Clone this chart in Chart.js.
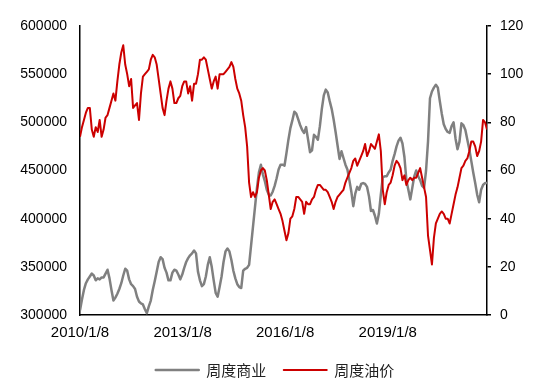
<!DOCTYPE html>
<html lang="zh">
<head>
<meta charset="UTF-8">
<title>周度商业 / 周度油价</title>
<script src="https://cdn.jsdelivr.net/npm/chart.js"></script>
<style>
    body { margin: 0; background: #ffffff; }
    #chart { display: block; }
</style>
</head>
<body>
<canvas id="chart" width="550" height="391"></canvas>
<script>
// sampled every 21 days starting 2010/1/8
const startDate = '2010/1/8';
const stepDays = 21;
const tickLabels = ['2010/1/8', '2013/1/8', '2016/1/8', '2019/1/8'];

// 周度商业 (thousands)
const commercialK = [
    305,316,326,333,337,340,343,341,336,338,
    337,339,339,343,347,338,326,315,318,322,
    327,333,341,348,346,337,332,330,327,319,
    314,312,311,306,302,309,315,326,335,345,
    355,360,358,349,344,336,336,344,347,346,
    342,337,342,349,355,359,362,364,367,364,
    345,336,330,332,340,352,360,350,336,323,
    319,329,340,355,366,369,366,357,346,338,
    332,329,328,346,348,349,352,372,392,412,
    432,448,456,446,439,430,425,424,428,434,
    442,451,456,456,455,468,482,494,502,511,
    509,503,497,492,489,495,482,469,471,487,
    485,482,496,514,528,534,531,522,514,503,
    490,476,462,470,463,456,451,440,428,413,
    426,433,430,436,437,436,433,423,408,409,
    403,395,405,425,443,444,444,448,451,460,
    467,475,481,484,478,464,440,430,420,432,
    444,450,444,440,434,432,450,480,525,532,
    536,539,536,522,509,498,493,490,489,496,
    500,483,472,480,499,497,492,482,472,460,
    448,437,425,417,430,435,437,437
];

// 周度油价
const oilPrice = [
    74,78,81,84,86,86,77,74,78,76,
    81,74,77,82,83,86,89,92,89,97,
    104,109,112,104,100,95,98,86,87,88,
    81,92,99,100,101,102,106,108,107,104,
    98,92,86,83,89,94,97,94,88,88,
    90,91,95,97,97,92,95,89,96,96,
    100,106,106,107,106,102,98,94,97,99,
    94,100,100,100,101,102,103,105,103,98,
    94,92,89,83,78,70,55,49,51,49,
    51,57,60,61,60,56,50,44,47,48,
    46,44,42,39,35,31,34,40,41,44,
    49,49,48,47,42,47,46,46,48,49,
    52,54,54,53,52,52,51,49,47,44,
    47,49,50,51,52,55,57,59,61,64,
    65,62,64,66,68,71,66,68,71,70,
    69,72,75,68,52,46,51,54,55,58,
    62,64,63,61,56,58,54,56,57,56,
    57,57,59,61,57,53,49,33,27,21,
    32,38,40,42,43,42,40,40,38,42,
    46,50,53,57,61,62,64,65,68,72,
    72,70,66,68,72,81,80,77
];

function daysFromStart(s) {
    return Math.round((new Date(s) - new Date(startDate)) / 86400000);
}

const commercialData = commercialK.map((v, i) => ({ x: i * stepDays, y: v * 1000 }));
const oilData = oilPrice.map((v, i) => ({ x: i * stepDays, y: v }));
const lastX = (oilPrice.length - 1) * stepDays;

const tickFont = { family: 'Liberation Sans, Arial, sans-serif', size: 14 };

new Chart(document.getElementById('chart'), {
    type: 'line',
    data: {
        datasets: [{
            label: '周度商业',
            data: commercialData,
            yAxisID: 'y',
            borderColor: '#808080',
            backgroundColor: '#808080',
            borderWidth: 2.5,
            pointRadius: 0,
            borderJoinStyle: 'round',
            order: 1
        }, {
            label: '周度油价',
            data: oilData,
            yAxisID: 'y1',
            borderColor: '#cc0000',
            backgroundColor: '#cc0000',
            borderWidth: 2,
            pointRadius: 0,
            borderJoinStyle: 'round',
            order: 0
        }]
    },
    options: {
        responsive: false,
        animation: false,
        layout: { padding: { top: 26, left: 0, right: 0, bottom: 3.5 } },
        plugins: {
            tooltip: { enabled: false },
            legend: {
                position: 'bottom',
                labels: {
                    boxWidth: 43,
                    boxHeight: 0,
                    padding: 17.5,
                    color: '#222',
                    font: { family: 'Noto Sans CJK SC', size: 15 },
                    sort: (a, b) => a.datasetIndex - b.datasetIndex
                }
            }
        },
        scales: {
            x: {
                type: 'linear',
                min: 0,
                max: lastX,
                grid: { display: false, drawTicks: false },
                border: { display: true, color: '#000', width: 1.5 },
                ticks: {
                    color: '#000',
                    font: { family: 'Liberation Sans, Arial, sans-serif', size: 15 },
                    padding: 9,
                    maxRotation: 0,
                    callback: (v, i) => tickLabels[i]
                },
                afterBuildTicks: (scale) => {
                    scale.ticks = tickLabels.map(s => ({ value: daysFromStart(s) }));
                },
                afterFit: (scale) => { scale.height = 30; }
            },
            y: {
                position: 'left',
                min: 300000,
                max: 600000,
                grid: { display: false, drawTicks: false },
                border: { display: true, color: '#000', width: 1.5 },
                ticks: { stepSize: 50000, color: '#000', font: tickFont, padding: 13, callback: (v) => String(v) },
                afterFit: (scale) => { scale.width = 80; }
            },
            y1: {
                position: 'right',
                min: 0,
                max: 120,
                grid: { display: true, drawOnChartArea: false, drawTicks: true, tickLength: 4, color: '#000', lineWidth: 1.5 },
                border: { display: true, color: '#000', width: 1.5 },
                ticks: { stepSize: 20, color: '#000', font: tickFont, padding: 9 },
                afterFit: (scale) => { scale.width = 63; }
            }
        }
    }
});
</script>
</body>
</html>
